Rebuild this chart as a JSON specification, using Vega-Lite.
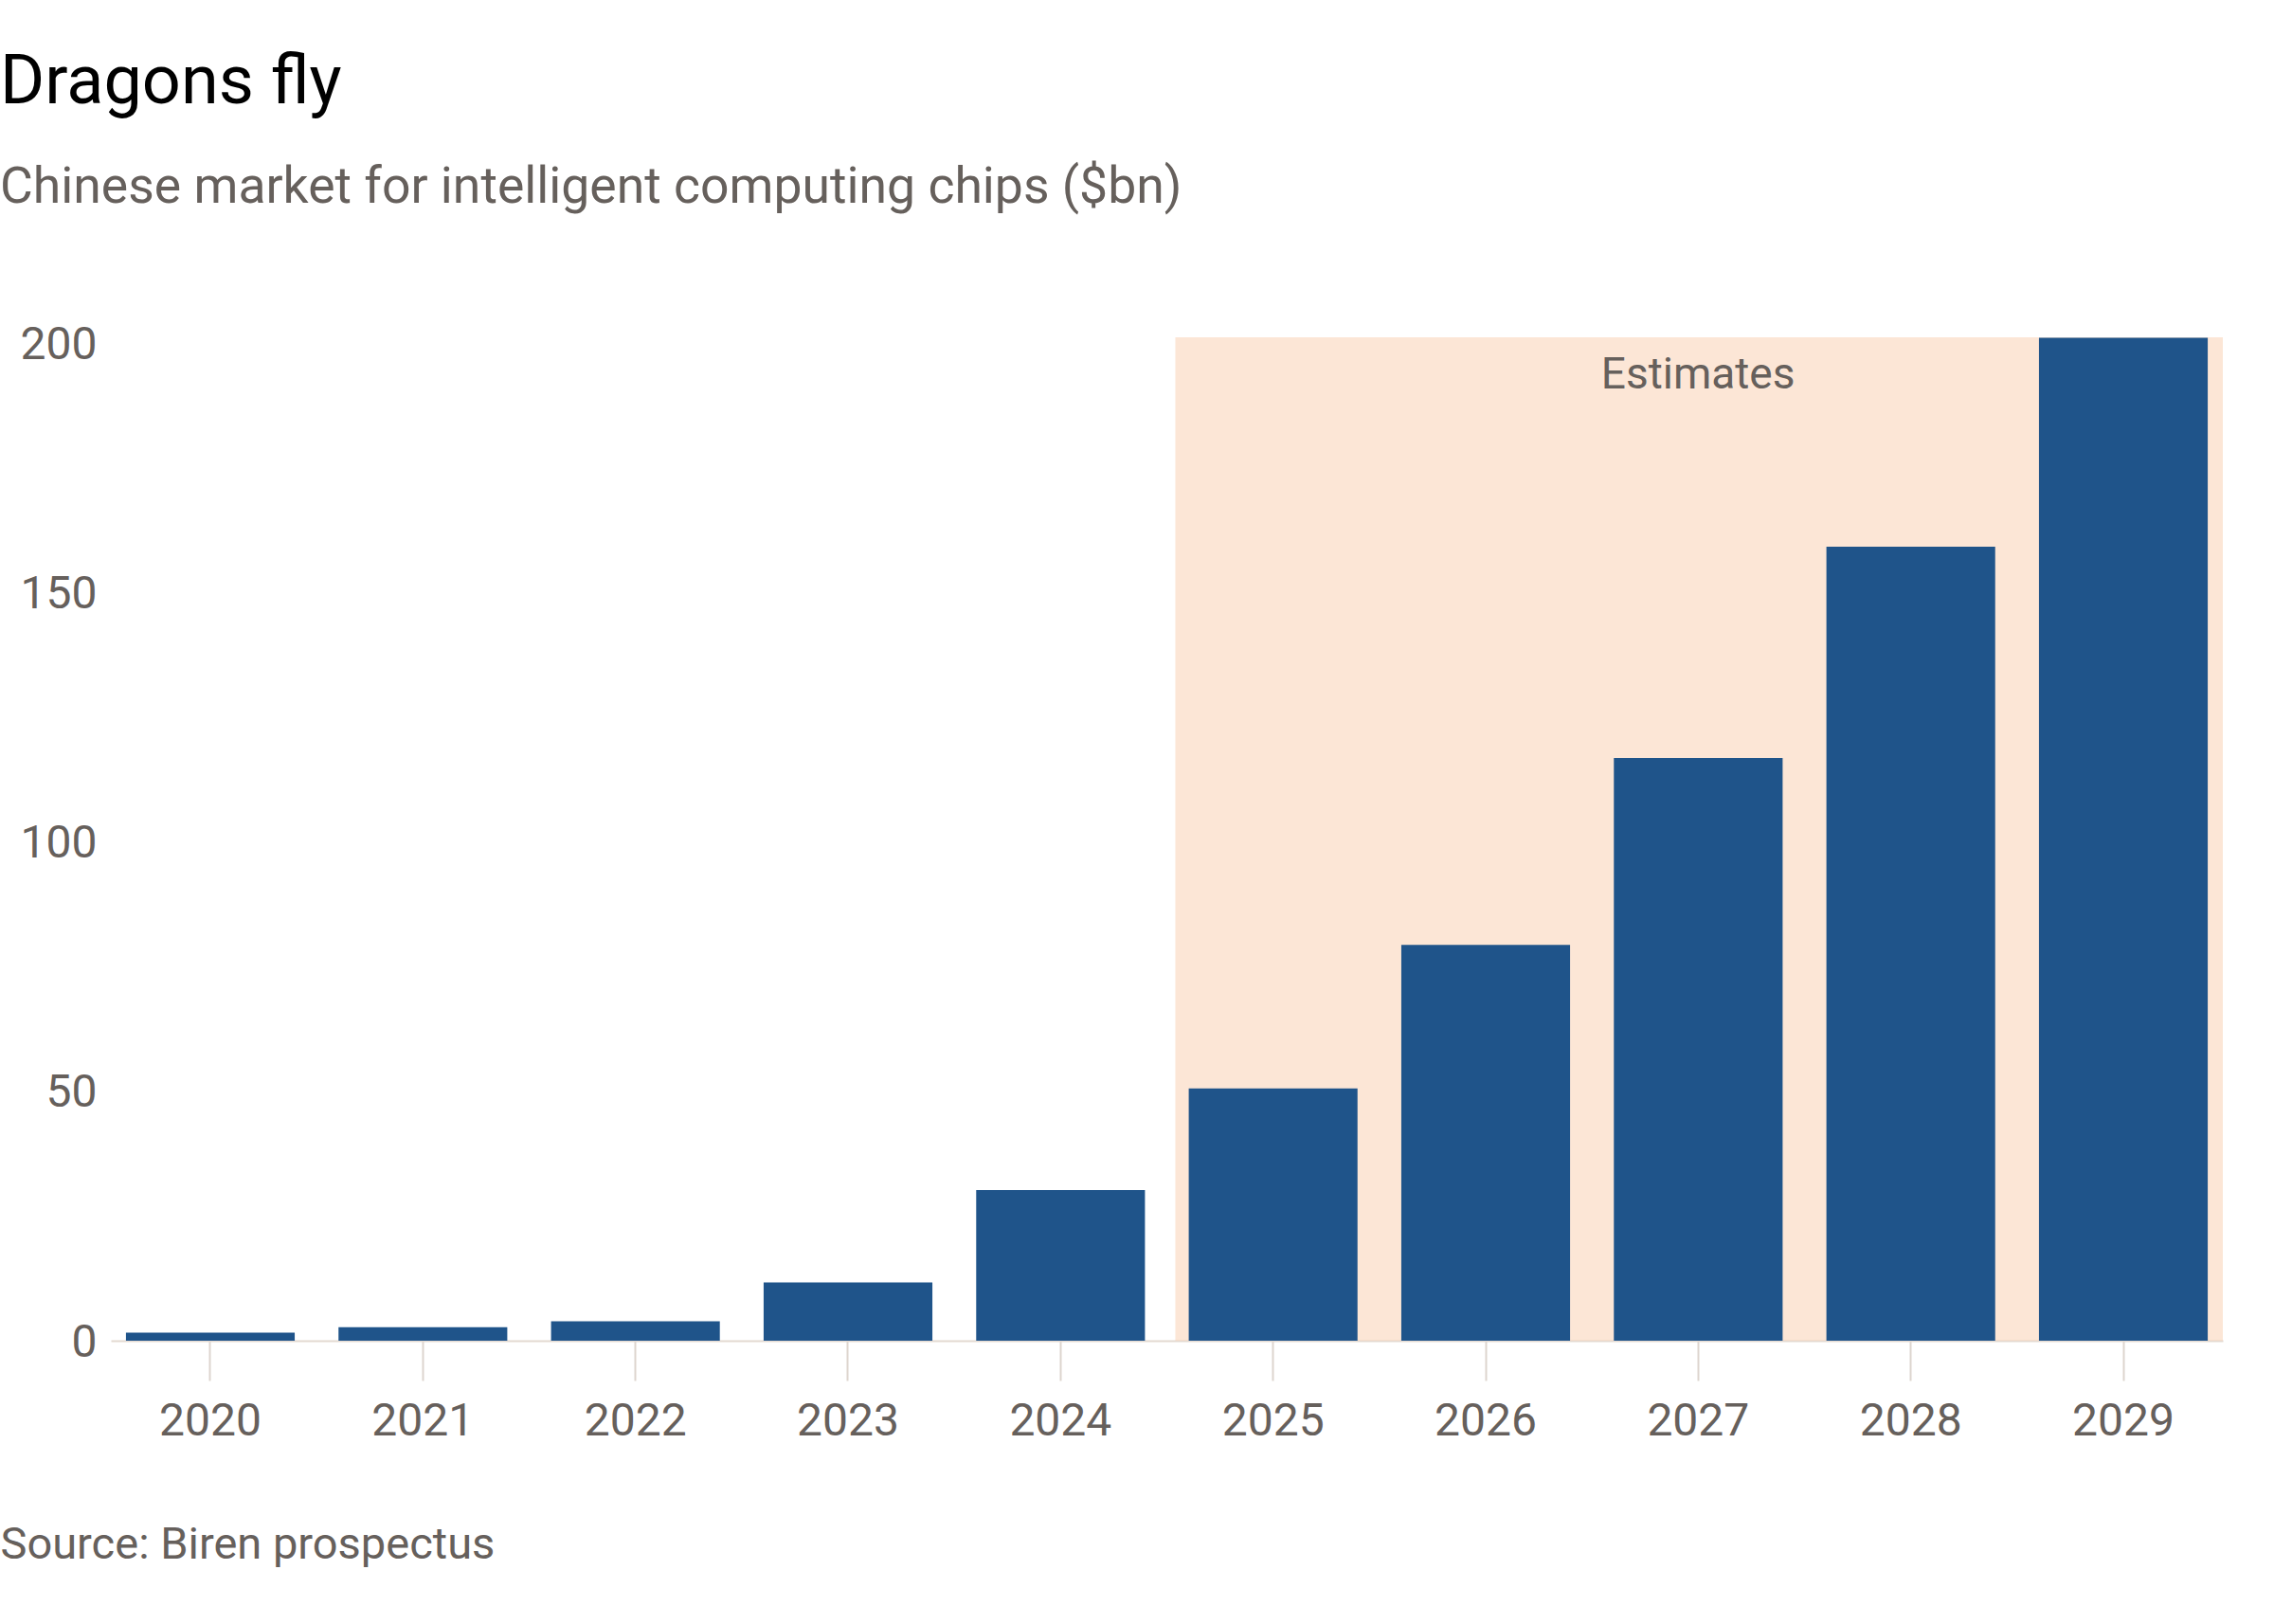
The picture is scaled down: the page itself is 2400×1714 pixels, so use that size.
{
  "$schema": "https://vega.github.io/schema/vega-lite/v6.json",
  "width": 2229,
  "height": 1059,
  "autosize": {"type": "none"},
  "padding": {"left": 117, "top": 356, "right": 54, "bottom": 299},
  "background": "#ffffff",
  "title": {
    "text": "Dragons fly",
    "subtitle": "Chinese market for intelligent computing chips ($bn)",
    "anchor": "start",
    "frame": "group",
    "dx": -117,
    "offset": 115,
    "font": "Roboto",
    "fontSize": 72,
    "fontWeight": "normal",
    "color": "#000000",
    "subtitleFont": "Roboto",
    "subtitleFontSize": 53.5,
    "subtitleColor": "#66605c",
    "subtitlePadding": 48
  },
  "config": {
    "view": {"stroke": null},
    "font": "Roboto"
  },
  "datasets": {
    "market": [
      {"year": "2020", "value": 1.6},
      {"year": "2021", "value": 2.7},
      {"year": "2022", "value": 3.9},
      {"year": "2023", "value": 11.7},
      {"year": "2024", "value": 30.2},
      {"year": "2025", "value": 50.6},
      {"year": "2026", "value": 79.4},
      {"year": "2027", "value": 116.9},
      {"year": "2028", "value": 159.3},
      {"year": "2029", "value": 201.2}
    ],
    "period": [
      {"label": "Estimates", "start": 2024.54, "end": 2029.47}
    ]
  },
  "layer": [
    {
      "data": {"name": "period"},
      "encoding": {
        "x": {"field": "start", "type": "quantitative", "scale": {"domain": [2019.53, 2029.47], "nice": false, "zero": false}, "axis": null}
      },
      "layer": [
        {
          "mark": {"type": "rect", "color": "#f9cdad", "opacity": 0.5},
          "encoding": {
            "x2": {"field": "end"},
            "y": {"datum": 0, "type": "quantitative", "scale": {"domain": [0, 201.3], "nice": false}},
            "y2": {"datum": 201.3}
          }
        },
        {
          "mark": {"type": "text", "font": "Roboto", "fontSize": 46, "color": "#66605c", "align": "center", "baseline": "alphabetic"},
          "encoding": {
            "x": {"datum": 2027, "type": "quantitative"},
            "y": {"datum": 191, "type": "quantitative"},
            "text": {"field": "label"}
          }
        }
      ]
    },
    {
      "data": {"name": "market"},
      "mark": {"type": "bar", "color": "#1f548a"},
      "encoding": {
        "x": {
          "field": "year",
          "type": "ordinal",
          "scale": {"paddingInner": 0.206, "paddingOuter": 0.071},
          "axis": {
            "title": "Source: Biren prospectus",
            "titleAnchor": "start",
            "titleAlign": "left",
            "titleX": -117,
            "titleY": 229,
            "titleBaseline": "alphabetic",
            "titleFont": "Roboto",
            "titleFontSize": 47,
            "titleFontWeight": "normal",
            "titleColor": "#66605c",
            "labelAngle": 0,
            "labelFont": "Roboto",
            "labelFontSize": 48,
            "labelColor": "#66605c",
            "labelBaseline": "alphabetic",
            "labelPadding": 57,
            "domainColor": "#e3d9d1",
            "domainWidth": 2,
            "tickColor": "#ddd5ce",
            "tickWidth": 2,
            "tickSize": 42,
            "grid": false
          }
        },
        "y": {
          "field": "value",
          "type": "quantitative",
          "scale": {"domain": [0, 201.3], "nice": false},
          "axis": {
            "title": null,
            "values": [0, 50, 100, 150, 200],
            "domain": false,
            "ticks": false,
            "labelPadding": 15,
            "labelFont": "Roboto",
            "labelFontSize": 48,
            "labelColor": "#66605c",
            "labelBaseline": "middle",
            "labelOffset": 2,
            "gridColor": "#eee8e3",
            "gridWidth": 2
          }
        }
      }
    }
  ],
  "resolve": {"scale": {"x": "independent"}}
}
